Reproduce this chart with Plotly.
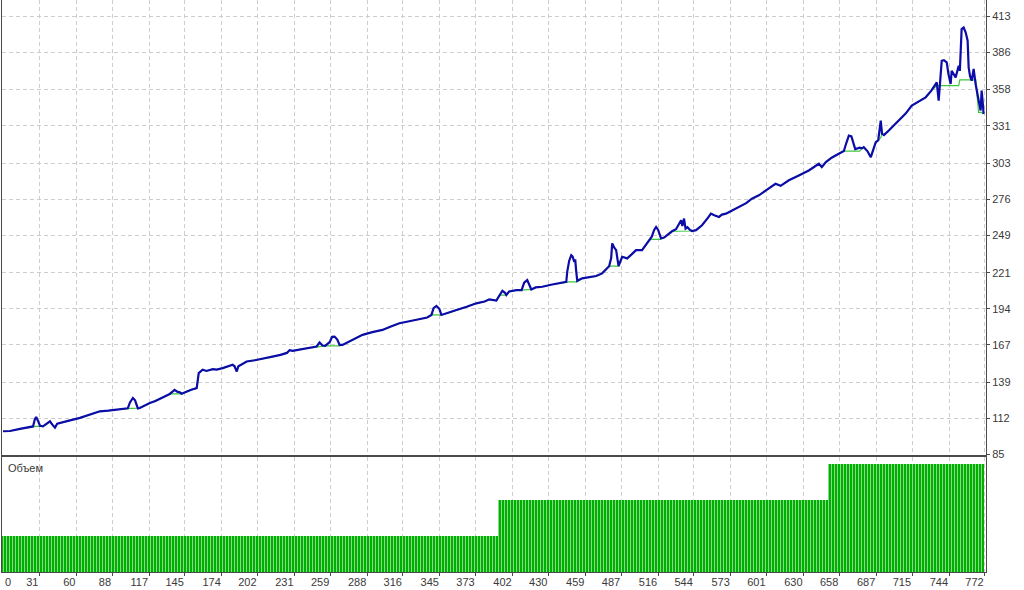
import plotly.graph_objects as go

# ---- data (trade number, equity, balance) ----
trade = [2.5, 8.0, 15.8, 23.6, 26.0, 27.5, 28.5, 30.0, 31.5, 33.8, 37.0, 39.3, 41.0, 43.2, 45.0, 47.1,
         55.0, 62.8, 70.0, 78.4, 85.0, 91.7, 100.3, 102.0, 104.3, 106.0, 107.5, 108.2, 109.7, 113.0,
         117.6, 122.0, 127.0, 131.0, 133.2, 135.6, 137.0, 139.0, 141.0, 142.5, 146.5, 150.0, 154.3,
         155.9, 159.0, 162.0, 166.9, 170.0, 174.7, 178.0, 182.5, 184.0, 185.7, 187.0, 193.5, 200.0,
         211.5, 220.0, 225.0, 227.1, 229.5, 236.0, 242.8, 248.3, 250.6, 253.0, 255.0, 258.5, 260.5,
         262.4, 264.5, 266.3, 268.6, 276.0, 284.3, 292.0, 299.9, 306.0, 313.2, 320.0, 326.5, 335.0,
         338.3, 340.0, 342.2, 344.5, 346.1, 352.0, 357.9, 366.0, 373.5, 380.0, 383.7, 389.2, 391.5,
         393.9, 396.0, 397.0, 399.3, 405.0, 409.0, 411.0, 413.4, 415.0, 416.6, 420.0, 425.2, 432.0,
         438.5, 444.0, 444.8, 446.3, 447.9, 449.0, 450.3, 451.0, 451.8, 452.6, 456.5, 462.0, 467.4,
         472.1, 477.6, 479.2, 480.0, 481.5, 483.1, 484.0, 485.0, 487.8, 491.7, 495.0, 498.7, 503.4,
         506.0, 508.9, 511.0, 512.9, 514.4, 516.0, 517.5, 518.3, 520.7, 524.0, 526.9, 530.0, 532.4,
         534.0, 535.0, 536.3, 537.5, 539.0, 541.0, 542.6, 545.7, 550.4, 555.0, 557.4, 560.0, 563.7,
         566.0, 569.2, 574.0, 579.4, 585.0, 589.5, 595.0, 602.8, 608.0, 612.0, 618.5, 626.3, 634.1,
         642.0, 644.3, 647.5, 652.0, 657.6, 661.6, 663.5, 665.5, 667.5, 669.4, 670.5, 674.0, 675.7,
         677.2, 680.0, 682.7, 684.5, 686.6, 688.5, 690.5, 691.5, 693.0, 696.8, 700.0, 704.6, 710.0,
         714.8, 720.0, 725.7, 730.0, 734.4, 735.9, 736.7, 738.3, 740.0, 742.2, 743.5, 745.3, 746.1,
         747.5, 749.2, 751.6, 752.5, 753.9, 755.5, 757.1, 758.6, 759.4, 760.5, 761.8, 763.3, 764.9,
         765.7, 767.2, 768.8, 769.6, 770.3, 771.1]

equity = [102.4, 102.6, 104.2, 105.7, 106.0, 111.5, 113.1, 110.0, 106.5, 106.1, 108.0, 109.8, 107.5, 105.1, 108.0, 108.6,
          110.5, 112.4, 114.5, 117.3, 117.8, 118.6, 119.6, 124.0, 127.3, 125.5, 121.0, 119.5, 119.8, 121.5,
          123.6, 125.0, 127.3, 129.5, 130.3, 132.2, 133.4, 132.0, 131.5, 130.5, 132.2, 133.5, 134.7,
          145.9, 148.4, 147.5, 148.9, 148.5, 149.6, 150.5, 152.1, 151.0, 147.1, 151.0, 154.6, 155.5,
          157.5, 159.5, 161.0, 163.0, 162.5, 163.8, 164.6, 165.8, 168.8, 166.5, 166.3, 169.0, 173.0,
          173.2, 171.0, 167.0, 167.0, 170.5, 174.5, 176.5, 178.2, 180.5, 183.2, 184.5, 185.7, 187.5,
          189.4, 194.5, 196.1, 194.0, 189.4, 191.0, 193.1, 195.5, 198.1, 199.5, 201.1, 200.1, 204.3,
          207.5, 206.0, 204.3, 207.0, 208.0, 208.0, 213.5, 215.5, 212.0, 208.5, 210.0, 210.5, 212.0,
          213.0, 214.2, 222.0, 230.0, 234.1, 233.0, 229.0, 231.0, 222.0, 215.0, 216.8, 217.8, 218.5,
          220.5, 225.9, 232.0, 242.9, 240.0, 237.9, 232.0, 226.0, 232.9, 231.7, 234.5, 237.9, 237.9,
          241.5, 245.3, 248.0, 253.0, 255.2, 253.0, 248.0, 246.6, 247.3, 250.0, 252.0, 253.5, 258.0,
          260.2, 256.0, 261.5, 254.0, 255.0, 253.0, 252.2, 252.8, 256.5, 262.0, 265.2, 264.0, 262.7,
          264.5, 265.2, 267.5, 270.2, 273.0, 276.4, 278.9, 284.1, 287.5, 286.0, 290.1, 293.8, 297.5,
          302.5, 300.0, 303.7, 307.0, 310.0, 312.0, 318.0, 323.6, 323.0, 318.0, 313.5, 314.5, 314.0,
          314.9, 312.0, 307.4, 313.0, 318.6, 320.0, 334.8, 325.0, 324.0, 327.4, 330.5, 334.8, 340.0,
          346.0, 349.0, 352.2, 357.0, 363.4, 349.7, 362.0, 379.5, 380.0, 378.3, 370.0, 362.2, 372.1,
          370.0, 367.1, 375.8, 372.0, 403.2, 404.4, 400.7, 394.5, 374.6, 368.0, 364.6, 373.4, 362.0,
          357.2, 350.0, 342.3, 357.2, 350.0, 339.8]

balance = [102.4, 102.6, 104.2, 105.7, 106.0, 106.0, 106.0, 106.0, 106.0, 106.1, 108.0, 109.8, 107.5, 105.1, 108.0, 108.6,
           110.5, 112.4, 114.5, 117.3, 117.8, 118.6, 119.5, 119.5, 119.5, 119.5, 119.5, 119.5, 119.8, 121.5,
           123.6, 125.0, 127.3, 129.5, 130.3, 130.3, 130.3, 130.3, 130.3, 130.3, 132.2, 133.5, 134.7,
           145.9, 148.4, 147.5, 148.9, 148.5, 149.6, 150.5, 152.1, 151.0, 147.1, 151.0, 154.6, 155.5,
           157.5, 159.5, 161.0, 163.0, 162.5, 163.8, 164.6, 165.8, 165.8, 165.8, 166.3, 166.3, 166.3,
           166.3, 166.3, 166.3, 167.0, 170.5, 174.5, 176.5, 178.2, 180.5, 183.2, 184.5, 185.7, 187.5,
           189.4, 189.4, 189.4, 189.4, 189.4, 191.0, 193.1, 195.5, 198.1, 199.5, 201.1, 200.1, 204.3,
           204.3, 204.3, 204.3, 207.0, 208.0, 208.0, 208.0, 208.0, 208.0, 208.5, 210.0, 210.5, 212.0,
           213.0, 214.2, 214.2, 214.2, 214.2, 214.2, 214.2, 214.2, 214.2, 214.2, 216.8, 217.8, 218.5,
           220.5, 225.9, 225.9, 225.9, 225.9, 225.9, 225.9, 225.9, 232.9, 231.7, 234.5, 237.9, 237.9,
           241.5, 245.3, 246.0, 246.0, 246.0, 246.0, 246.0, 246.6, 247.3, 250.0, 252.0, 252.0, 252.0,
           252.0, 252.0, 252.0, 252.0, 252.0, 252.0, 252.2, 252.8, 256.5, 262.0, 265.2, 264.0, 262.7,
           264.5, 265.2, 267.5, 270.2, 273.0, 276.4, 278.9, 284.1, 287.5, 286.0, 290.1, 293.8, 297.5,
           302.5, 300.0, 303.7, 307.0, 310.0, 312.0, 312.0, 312.0, 312.0, 312.0, 312.0, 312.0, 314.0,
           314.9, 312.0, 307.4, 313.0, 318.6, 320.0, 322.0, 325.0, 324.0, 327.4, 330.5, 334.8, 340.0,
           346.0, 349.0, 352.2, 357.0, 360.9, 360.9, 360.9, 360.9, 360.9, 360.9, 360.9, 360.9, 360.9,
           360.9, 360.9, 360.9, 365.2, 365.2, 365.2, 365.2, 365.2, 365.2, 365.2, 365.2, 365.2, 365.2,
           356.8, 341.0, 341.0, 341.0, 340.0, 340.0]

# volume per trade, read as runs: level and first trade of each run
volume_level = [0.1, 0.2, 0.3]
volume_first_trade = [1, 391, 650]
volume_last_trade = 771

x_tick_labels = [0, 31, 60, 88, 117, 145, 174, 202, 231, 259, 288, 316, 345, 373, 402,
                 430, 459, 487, 516, 544, 573, 601, 630, 658, 687, 715, 744, 772]
y_tick_labels = [85, 112, 139, 167, 194, 221, 249, 276, 303, 331, 358, 386, 413]

# ---- build ----
vol_x, vol_y = [], []
bounds = volume_first_trade + [volume_last_trade + 1]
for lvl, a, b in zip(volume_level, bounds[:-1], bounds[1:]):
    for t in range(a, b):
        vol_x.append(t)
        vol_y.append(lvl)

X0, X1 = 1.7, 773
FONT = "Liberation Sans"
TXT = "#3a3a3a"
GRID = "#cdcdcd"
FRAME = "#4a4a4a"
DASH = "4px,3px"

fig = go.Figure()
fig.add_trace(go.Scatter(x=trade, y=balance, mode="lines", xaxis="x", yaxis="y",
                         line=dict(color="#3cc83c", width=1.2), hoverinfo="skip", showlegend=False))
fig.add_trace(go.Scatter(x=trade, y=equity, mode="lines", xaxis="x", yaxis="y",
                         line=dict(color="#0c0ca8", width=2.2), hoverinfo="skip", showlegend=False))
fig.add_trace(go.Bar(x=vol_x, y=vol_y, xaxis="x2", yaxis="y2", width=1.0,
                     marker=dict(color="#00b000", line=dict(width=0),
                                 pattern=dict(shape="|", size=3, solidity=0.34,
                                              fgcolor="#8ad88a", bgcolor="#00b000",
                                              fillmode="replace")),
                     hoverinfo="skip", showlegend=False))

tickvals = [X0] + x_tick_labels[1:]
main_top, vol_top = 1.0, 0.2019

fig.update_layout(
    width=1024, height=590,
    margin=dict(l=2, r=38, t=0, b=18),
    paper_bgcolor="white", plot_bgcolor="white",
    font=dict(family=FONT, size=11, color=TXT),
    bargap=0,
    xaxis=dict(domain=[0, 1], anchor="y", range=[X0, X1], tickvals=tickvals,
               showticklabels=False, ticks="", showgrid=True, gridcolor=GRID, griddash=DASH,
               gridwidth=1, zeroline=False, showline=True, linecolor=FRAME, linewidth=1),
    xaxis2=dict(domain=[0, 1], anchor="y2", range=[X0, X1], matches="x",
                tickvals=x_tick_labels[1:], ticktext=[str(v) for v in x_tick_labels[1:]],
                ticklabelposition="outside left", ticks="outside", ticklen=3, tickcolor=FRAME,
                showgrid=True, gridcolor=GRID, griddash=DASH, gridwidth=1, zeroline=False,
                showline=True, mirror=True, linecolor=FRAME, linewidth=1,
                tickfont=dict(family=FONT, size=11, color=TXT)),
    yaxis=dict(domain=[0.2054, main_top], anchor="x", side="right", range=[85, 425],
               tickvals=y_tick_labels, ticktext=[str(v) for v in y_tick_labels],
               ticks="outside", ticklen=3, tickcolor=FRAME,
               showgrid=True, gridcolor=GRID, griddash=DASH, gridwidth=1, zeroline=False,
               showline=True, mirror=True, linecolor=FRAME, linewidth=1,
               tickfont=dict(family=FONT, size=11, color=TXT)),
    yaxis2=dict(domain=[0, vol_top], anchor="x2", side="right", range=[0, 0.32],
                showticklabels=False, ticks="", showgrid=False, zeroline=False,
                showline=True, mirror=True, linecolor=FRAME, linewidth=1),
    annotations=[
        dict(text="Объем", x=0, y=vol_top, xref="paper", yref="paper", xanchor="left",
             yanchor="top", xshift=4, yshift=-3, showarrow=False,
             font=dict(family=FONT, size=11, color=TXT)),
        dict(text=str(x_tick_labels[0]), x=X0, y=0, xref="x2", yref="paper", xanchor="left",
             yanchor="top", xshift=1, yshift=-2, showarrow=False,
             font=dict(family=FONT, size=11, color=TXT)),
    ],
)

fig.write_html("out.html", config={"displayModeBar": False},
               post_script="document.body.style.margin='0';document.body.style.overflow='hidden';")
